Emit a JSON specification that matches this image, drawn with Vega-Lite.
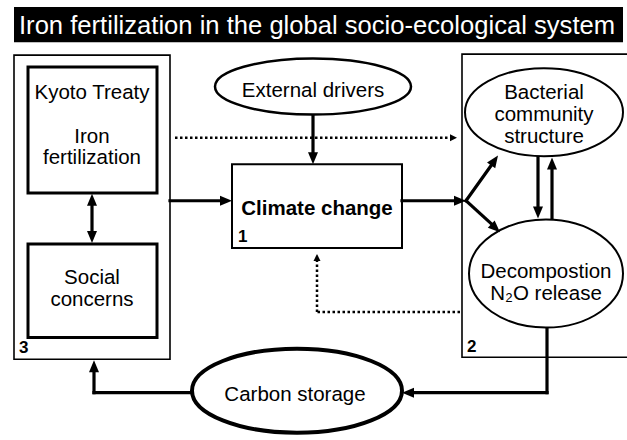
{
  "$schema": "https://vega.github.io/schema/vega-lite/v6.json",
  "width": 627,
  "height": 440,
  "autosize": {"type": "fit", "contains": "padding"},
  "padding": 0,
  "background": "white",
  "config": {"view": {"stroke": null}, "text": {"font": "Liberation Sans"}},
  "datasets": {
    "title": [{"x": 14, "x2": 623, "y": 7, "y2": 43, "tx": 19, "ty": 26, "label": "Iron fertilization in the global socio-ecological system"}],
    "boxes": [
      {"node": "3", "level": "outer", "x": 14, "x2": 170, "y": 56, "y2": 365},
      {"node": "2", "level": "outer", "x": 462, "x2": 640, "y": 55, "y2": 363},
      {"node": "Kyoto Treaty / Iron fertilization", "level": "inner", "x": 28, "x2": 157, "y": 68, "y2": 196},
      {"node": "Social concerns", "level": "inner", "x": 28, "x2": 157, "y": 248, "y2": 343},
      {"node": "Climate change", "level": "center", "x": 232, "x2": 402, "y": 167, "y2": 252}
    ],
    "ellipses": [
      {"node": "External drivers", "x": 313, "y": 88},
      {"node": "Bacterial community structure", "x": 544, "y": 114},
      {"node": "Decompostion N2O release", "x": 546, "y": 278},
      {"node": "Carbon storage", "x": 297, "y": 397}
    ],
    "solidLinks": [
      {"x": 313, "y": 117, "x2": 313, "y2": 158},
      {"x": 170, "y": 204, "x2": 223, "y2": 204},
      {"x": 402, "y": 204, "x2": 457, "y2": 204},
      {"x": 466, "y": 204, "x2": 492, "y2": 167},
      {"x": 466, "y": 204, "x2": 493, "y2": 229},
      {"x": 92, "y": 207, "x2": 92, "y2": 237},
      {"x": 538, "y": 158, "x2": 538, "y2": 212},
      {"x": 552, "y": 224, "x2": 552, "y2": 170},
      {"x": 547, "y": 332, "x2": 547, "y2": 399},
      {"x": 547, "y": 399, "x2": 410, "y2": 399},
      {"x": 192, "y": 399, "x2": 94, "y2": 399},
      {"x": 94, "y": 399, "x2": 94, "y2": 376}
    ],
    "dottedLinks": [
      {"x": 175, "y": 140, "x2": 451, "y2": 140},
      {"x": 460, "y": 317, "x2": 317, "y2": 317},
      {"x": 317, "y": 317, "x2": 317, "y2": 264}
    ],
    "solidHeads": [
      {"x": 313, "y": 167, "angle": 180},
      {"x": 232, "y": 204, "angle": 90},
      {"x": 466, "y": 204, "angle": 90},
      {"x": 498, "y": 158, "angle": 35},
      {"x": 500, "y": 236, "angle": 133},
      {"x": 92, "y": 197, "angle": 0},
      {"x": 92, "y": 247, "angle": 180},
      {"x": 538, "y": 222, "angle": 180},
      {"x": 552, "y": 160, "angle": 0},
      {"x": 402, "y": 399, "angle": 270},
      {"x": 94, "y": 366, "angle": 0}
    ],
    "dottedHeads": [
      {"x": 457, "y": 140, "angle": 90},
      {"x": 317, "y": 258, "angle": 0}
    ],
    "labels": [
      {"x": 92, "y": 95, "label": "Kyoto Treaty"},
      {"x": 92, "y": 139, "label": "Iron"},
      {"x": 92, "y": 161, "label": "fertilization"},
      {"x": 92, "y": 282, "label": "Social"},
      {"x": 92, "y": 305, "label": "concerns"},
      {"x": 313, "y": 92, "label": "External drivers"},
      {"x": 544, "y": 95, "label": "Bacterial"},
      {"x": 544, "y": 117, "label": "community"},
      {"x": 544, "y": 139, "label": "structure"},
      {"x": 546, "y": 276, "label": "Decompostion"},
      {"x": 546, "y": 299, "label": "N₂O release"},
      {"x": 295, "y": 401, "label": "Carbon storage"}
    ],
    "boldLabels": [
      {"x": 317, "y": 212, "label": "Climate change", "align": "center"},
      {"x": 238, "y": 241, "label": "1", "align": "left"},
      {"x": 19, "y": 354, "label": "3", "align": "left"},
      {"x": 467, "y": 353, "label": "2", "align": "left"}
    ]
  },
  "layer": [
    {
      "data": {"name": "title"},
      "mark": {"type": "rect", "fill": "black"},
      "encoding": {
        "x": {"field": "x", "type": "quantitative", "scale": {"domain": [0, 627], "nice": false, "zero": false}, "axis": null},
        "x2": {"field": "x2"},
        "y": {"field": "y", "type": "quantitative", "scale": {"domain": [0, 440], "reverse": true, "nice": false, "zero": false}, "axis": null},
        "y2": {"field": "y2"}
      }
    },
    {
      "data": {"name": "title"},
      "mark": {"type": "text", "color": "white", "font": "Liberation Sans", "fontSize": 25.6, "align": "left", "baseline": "middle"},
      "encoding": {
        "x": {"field": "tx", "type": "quantitative"},
        "y": {"field": "ty", "type": "quantitative"},
        "text": {"field": "label"}
      }
    },
    {
      "data": {"name": "boxes"},
      "transform": [{"filter": "datum.level === 'outer'"}],
      "mark": {"type": "rect", "filled": false, "stroke": "black", "strokeWidth": 1.6, "clip": true},
      "encoding": {
        "x": {"field": "x", "type": "quantitative"},
        "x2": {"field": "x2"},
        "y": {"field": "y", "type": "quantitative"},
        "y2": {"field": "y2"}
      }
    },
    {
      "data": {"name": "boxes"},
      "transform": [{"filter": "datum.level === 'inner'"}],
      "mark": {"type": "rect", "filled": false, "stroke": "black", "strokeWidth": 3},
      "encoding": {
        "x": {"field": "x", "type": "quantitative"},
        "x2": {"field": "x2"},
        "y": {"field": "y", "type": "quantitative"},
        "y2": {"field": "y2"}
      }
    },
    {
      "data": {"name": "boxes"},
      "transform": [{"filter": "datum.level === 'center'"}],
      "mark": {"type": "rect", "filled": false, "stroke": "black", "strokeWidth": 2},
      "encoding": {
        "x": {"field": "x", "type": "quantitative"},
        "x2": {"field": "x2"},
        "y": {"field": "y", "type": "quantitative"},
        "y2": {"field": "y2"}
      }
    },
    {
      "data": {"name": "solidLinks"},
      "mark": {"type": "rule", "color": "black", "strokeWidth": 3.2, "strokeCap": "square"},
      "encoding": {
        "x": {"field": "x", "type": "quantitative"},
        "x2": {"field": "x2"},
        "y": {"field": "y", "type": "quantitative"},
        "y2": {"field": "y2"}
      }
    },
    {
      "data": {"name": "dottedLinks"},
      "mark": {"type": "rule", "color": "black", "strokeWidth": 2.5, "strokeDash": [2.5, 2.5]},
      "encoding": {
        "x": {"field": "x", "type": "quantitative"},
        "x2": {"field": "x2"},
        "y": {"field": "y", "type": "quantitative"},
        "y2": {"field": "y2"}
      }
    },
    {
      "data": {"name": "ellipses"},
      "transform": [{"filter": "datum.node === 'External drivers'"}],
      "mark": {"type": "point", "shape": "M-1,0C-1,-0.1578 -0.5523,-0.2857 0,-0.2857C0.5523,-0.2857 1,-0.1578 1,0C1,0.1578 0.5523,0.2857 0,0.2857C-0.5523,0.2857 -1,0.1578 -1,0Z", "size": 38416, "filled": true, "fill": "white", "stroke": "black", "strokeWidth": 2.5, "opacity": 1},
      "encoding": {
        "x": {"field": "x", "type": "quantitative"},
        "y": {"field": "y", "type": "quantitative"}
      }
    },
    {
      "data": {"name": "ellipses"},
      "transform": [{"filter": "datum.node === 'Bacterial community structure'"}],
      "mark": {"type": "point", "shape": "M-1,0C-1,-0.3076 -0.5523,-0.557 0,-0.557C0.5523,-0.557 1,-0.3076 1,0C1,0.3076 0.5523,0.557 0,0.557C-0.5523,0.557 -1,0.3076 -1,0Z", "size": 24964, "filled": true, "fill": "white", "stroke": "black", "strokeWidth": 2, "opacity": 1},
      "encoding": {
        "x": {"field": "x", "type": "quantitative"},
        "y": {"field": "y", "type": "quantitative"}
      }
    },
    {
      "data": {"name": "ellipses"},
      "transform": [{"filter": "datum.node === 'Decompostion N2O release'"}],
      "mark": {"type": "point", "shape": "M-1,0C-1,-0.3872 -0.5523,-0.701 0,-0.701C0.5523,-0.701 1,-0.3872 1,0C1,0.3872 0.5523,0.701 0,0.701C-0.5523,0.701 -1,0.3872 -1,0Z", "size": 23716, "filled": true, "fill": "white", "stroke": "black", "strokeWidth": 2, "opacity": 1},
      "encoding": {
        "x": {"field": "x", "type": "quantitative"},
        "y": {"field": "y", "type": "quantitative"}
      }
    },
    {
      "data": {"name": "ellipses"},
      "transform": [{"filter": "datum.node === 'Carbon storage'"}],
      "mark": {"type": "point", "shape": "M-1,0C-1,-0.2209 -0.5523,-0.4 0,-0.4C0.5523,-0.4 1,-0.2209 1,0C1,0.2209 0.5523,0.4 0,0.4C-0.5523,0.4 -1,0.2209 -1,0Z", "size": 44100, "filled": true, "fill": "white", "stroke": "black", "strokeWidth": 4, "opacity": 1},
      "encoding": {
        "x": {"field": "x", "type": "quantitative"},
        "y": {"field": "y", "type": "quantitative"}
      }
    },
    {
      "data": {"name": "solidHeads"},
      "mark": {"type": "point", "shape": "M0,0L-0.5,1.2L0.5,1.2Z", "size": 400, "filled": true, "fill": "black", "stroke": null, "opacity": 1},
      "encoding": {
        "x": {"field": "x", "type": "quantitative"},
        "y": {"field": "y", "type": "quantitative"},
        "angle": {"field": "angle", "type": "quantitative", "scale": null}
      }
    },
    {
      "data": {"name": "dottedHeads"},
      "mark": {"type": "point", "shape": "M0,0L-0.5,1L0.5,1Z", "size": 196, "filled": true, "fill": "black", "stroke": null, "opacity": 1},
      "encoding": {
        "x": {"field": "x", "type": "quantitative"},
        "y": {"field": "y", "type": "quantitative"},
        "angle": {"field": "angle", "type": "quantitative", "scale": null}
      }
    },
    {
      "data": {"name": "labels"},
      "mark": {"type": "text", "fontSize": 20.5, "color": "black", "align": "center", "baseline": "middle"},
      "encoding": {
        "x": {"field": "x", "type": "quantitative"},
        "y": {"field": "y", "type": "quantitative"},
        "text": {"field": "label"}
      }
    },
    {
      "data": {"name": "boldLabels"},
      "transform": [{"filter": "datum.align === 'center'"}],
      "mark": {"type": "text", "fontSize": 20.5, "fontWeight": "bold", "color": "black", "align": "center", "baseline": "middle"},
      "encoding": {
        "x": {"field": "x", "type": "quantitative"},
        "y": {"field": "y", "type": "quantitative"},
        "text": {"field": "label"}
      }
    },
    {
      "data": {"name": "boldLabels"},
      "transform": [{"filter": "datum.align === 'left'"}],
      "mark": {"type": "text", "fontSize": 17, "fontWeight": "bold", "color": "black", "align": "left", "baseline": "middle"},
      "encoding": {
        "x": {"field": "x", "type": "quantitative"},
        "y": {"field": "y", "type": "quantitative"},
        "text": {"field": "label"}
      }
    }
  ]
}
